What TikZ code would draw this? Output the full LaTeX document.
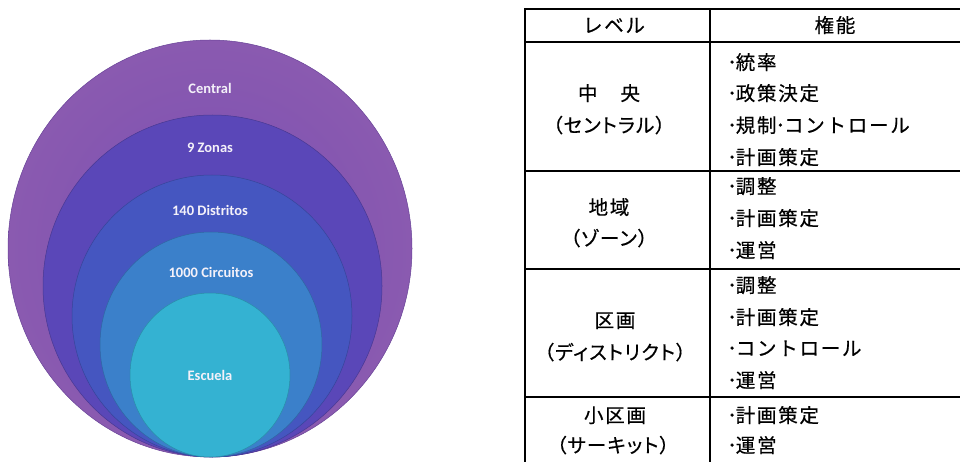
\documentclass[tikz,border=0pt]{standalone}
\usepackage{fontspec}
\newfontfamily\jp{Noto Sans CJK JP}[LetterSpace=9,FakeBold=0.5]
\newfontfamily\jpp{Noto Sans CJK JP}[RawFeature=+palt,LetterSpace=6,FakeBold=0.5]
\newfontfamily\lab{Carlito}[BoldFont=* Bold]
\definecolor{cA}{HTML}{7A4FB2}
\definecolor{cAr}{HTML}{8A5AB0}
\definecolor{cB}{HTML}{5A47B8}
\definecolor{cC}{HTML}{4556C0}
\definecolor{cD}{HTML}{3B80CA}
\definecolor{cE}{HTML}{34B2D2}
\newcommand\bul{･\kern-1.2pt}
\begin{document}
\begin{tikzpicture}[x=1pt,y=-1pt,
  lbl/.style={text=white!92!cA,font=\lab\bfseries\fontsize{14.5}{16}\selectfont,inner sep=0pt},
  rule/.style={line width=2pt,line cap=rect},
  jr/.style={anchor=base west,inner sep=0pt,font=\jp\fontsize{19.5}{22}\selectfont},
  jc/.style={anchor=base,inner sep=0pt,font=\jp\fontsize{19.5}{22}\selectfont},
  jpc/.style={anchor=base,inner sep=0pt,font=\jpp\fontsize{19.5}{22}\selectfont}]
\useasboundingbox (0,0) rectangle (960,462);
% circles
\shade[inner color=cA,outer color=cAr] (210,248.5) ellipse [x radius=202,y radius=208.5];
\draw[cA!85!black,line width=0.5pt] (210,248.5) ellipse [x radius=202,y radius=208.5];
\fill[cB] (212.5,286) ellipse [x radius=169.5,y radius=171];
\draw[cB!80!black,line width=0.5pt] (212.5,286) ellipse [x radius=169.5,y radius=171];
\fill[cC] (212,316) ellipse [x radius=140,y radius=141];
\draw[cC!80!black,line width=0.5pt] (212,316) ellipse [x radius=140,y radius=141];
\fill[cD] (211,344.5) ellipse [x radius=111,y radius=112.5];
\draw[cD!80!black,line width=0.5pt] (211,344.5) ellipse [x radius=111,y radius=112.5];
\fill[cE] (210,375) ellipse [x radius=80,y radius=82];
\draw[cE!80!black,line width=0.5pt] (210,375) ellipse [x radius=80,y radius=82];
\node[lbl] (l1) at (210,88) {Central};
\node[lbl] (l2) at (210,148) {9 Zonas};
\node[lbl] (l3) at (210,210) {140 Distritos};
\node[lbl] (l4) at (211,272) {1000 Circuitos};
\node[lbl] (l5) at (210,375) {Escuela};
% table rules
\draw[rule] (525,9) -- (961,9);
\draw[rule] (525,42) -- (961,42);
\draw[rule] (525,171) -- (961,171);
\draw[rule] (525,269) -- (961,269);
\draw[rule] (525,397) -- (961,397);
\draw[rule] (525,9) -- (525,463);
\draw[rule] (710,9) -- (710,463);
% header
\node[jc] (h1) at (614,32.5) {レベル};
\node[jc] (h2) at (835,32.5) {権能};
% left column
\node[jc] (a1) at (609,100.5) {中　央};
\node[jpc] (a2) at (609,132.5) {（セントラル）};
\node[jc] (b1) at (609,214.5) {地域};
\node[jpc] (b2) at (609,245.5) {（ゾーン）};
\node[jc] (c1) at (615,327.5) {区画};
\node[jpc] (c2) at (615,359.5) {（ディストリクト）};
\node[jc] (d1) at (615,422.5) {小区画};
\node[jpc] (d2) at (613,452.5) {（サーキット）};
% right column
\node[jr] (r11) at (727,69.5) {\bul 統率};
\node[jr] (r12) at (727,100.5) {\bul 政策決定};
\node[jr] (r13) at (727,132.5) {\bul 規制\kern-1pt\bul コントロール};
\node[jr] (r14) at (727,164.5) {\bul 計画策定};
\node[jr] (r21) at (727,193.5) {\bul 調整};
\node[jr] (r22) at (727,225.5) {\bul 計画策定};
\node[jr] (r23) at (727,257.5) {\bul 運営};
\node[jr] (r31) at (727,292.5) {\bul 調整};
\node[jr] (r32) at (727,324.5) {\bul 計画策定};
\node[jr] (r33) at (727,355.5) {\bul コントロール};
\node[jr] (r34) at (727,387.5) {\bul 運営};
\node[jr] (r41) at (727,422.5) {\bul 計画策定};
\node[jr] (r42) at (727,452.5) {\bul 運営};
\end{tikzpicture}
\end{document}
